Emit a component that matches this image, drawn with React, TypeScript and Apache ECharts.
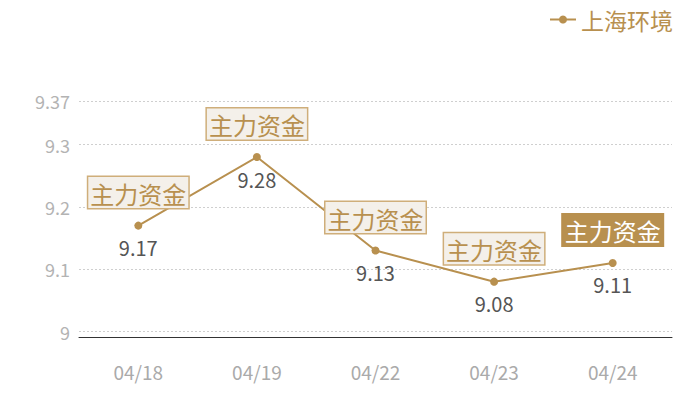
import { useEffect, useRef } from 'react';
import * as echarts from 'echarts';

const categories = ['04/18', '04/19', '04/22', '04/23', '04/24'];
const prices = [9.17, 9.28, 9.13, 9.08, 9.11];
const tagTexts = ['主力资金', '主力资金', '主力资金', '主力资金', '主力资金'];
const highlighted = [false, false, false, false, true];
const seriesName = '上海环境';

const GOLD = '#b8904f';
const FONT = '"Noto Sans CJK SC", "Noto Sans", sans-serif';

export default function App() {
  const chartRef = useRef<HTMLDivElement>(null);

  useEffect(() => {
    if (!chartRef.current) return;
    const chart = echarts.init(chartRef.current, null, { renderer: 'svg' });

    // 标签气泡：最后一个是实心底
    const tagData = prices.map((v, i) => ({
      value: v,
      label: highlighted[i]
        ? { color: '#fff', backgroundColor: GOLD, borderColor: GOLD }
        : {}
    }));

    const option: echarts.EChartsOption = {
      animation: false,
      textStyle: { fontFamily: FONT },
      legend: {
        data: [seriesName],
        right: 22,
        top: 3,
        itemWidth: 26,
        itemHeight: 10,
        itemGap: 6,
        textStyle: { color: GOLD, fontSize: 23, fontFamily: FONT }
      },
      grid: { left: 79, right: 28, top: 101, bottom: 68.5 },
      xAxis: {
        type: 'category',
        data: categories,
        offset: 6,
        axisLine: { lineStyle: { color: '#333', width: 1 } },
        axisTick: { show: false },
        axisLabel: { color: '#aaa', fontSize: 19, margin: 24, fontFamily: FONT },
        splitLine: { show: false }
      },
      yAxis: {
        type: 'value',
        min: 9,
        max: 9.37,
        interval: 0.1,
        axisLine: { show: false },
        axisTick: { show: false },
        axisLabel: { color: '#b3b3b3', fontSize: 18, margin: 9, fontFamily: FONT },
        splitLine: { lineStyle: { color: '#cfcfcf', type: [2, 2] } }
      },
      series: [
        {
          name: seriesName,
          type: 'line',
          data: prices,
          symbol: 'circle',
          symbolSize: 8,
          lineStyle: { color: GOLD, width: 2 },
          itemStyle: { color: GOLD },
          label: {
            show: true,
            position: 'bottom',
            distance: 8,
            color: '#555',
            fontSize: 20,
            fontFamily: FONT
          },
          z: 3
        },
        {
          name: 'tag',
          type: 'line',
          data: tagData,
          symbol: 'circle',
          symbolSize: 1,
          lineStyle: { opacity: 0 },
          itemStyle: { color: 'transparent' },
          silent: true,
          label: {
            show: true,
            position: 'top',
            distance: 17,
            formatter: (p: any) => tagTexts[p.dataIndex],
            color: GOLD,
            fontSize: 24,
            fontFamily: FONT,
            backgroundColor: '#f4f0ea',
            borderColor: '#cfae7a',
            borderWidth: 1.5,
            padding: [4, 2, 3, 2]
          },
          z: 4
        }
      ]
    };

    chart.setOption(option);
    return () => chart.dispose();
  }, []);

  return (
    <div
      ref={chartRef}
      style={{ position: 'absolute', left: 0, top: 0, width: 700, height: 400 }}
    />
  );
}
